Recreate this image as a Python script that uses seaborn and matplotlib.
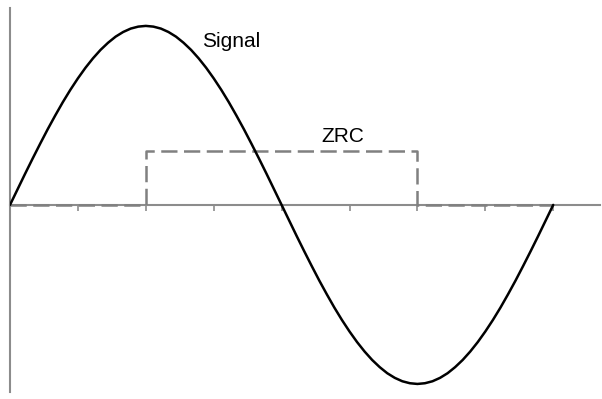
import matplotlib
matplotlib.use("Agg")
import matplotlib.pyplot as plt
import seaborn as sns
import pandas as pd

# phase in degrees
signal_x = list(range(0, 361, 5))
signal_y = [0.000, 0.087, 0.174, 0.259, 0.342, 0.423, 0.500, 0.574, 0.643,
            0.707, 0.766, 0.819, 0.866, 0.906, 0.940, 0.966, 0.985, 0.996,
            1.000, 0.996, 0.985, 0.966, 0.940, 0.906, 0.866, 0.819, 0.766,
            0.707, 0.643, 0.574, 0.500, 0.423, 0.342, 0.259, 0.174, 0.087,
            0.000, -0.087, -0.174, -0.259, -0.342, -0.423, -0.500, -0.574,
            -0.643, -0.707, -0.766, -0.819, -0.866, -0.906, -0.940, -0.966,
            -0.985, -0.996, -1.000, -0.996, -0.985, -0.966, -0.940, -0.906,
            -0.866, -0.819, -0.766, -0.707, -0.643, -0.574, -0.500, -0.423,
            -0.342, -0.259, -0.174, -0.087, 0.000]

zrc_x = [0, 90, 90, 270, 270, 360]
zrc_y = [0.0, 0.0, 0.30, 0.30, 0.0, 0.0]

tick_pos = [45, 90, 135, 180, 225, 270, 315, 360]

sig = pd.DataFrame({"x": signal_x, "y": signal_y})
zrc = pd.DataFrame({"x": zrc_x, "y": zrc_y})

sns.set_style("white")
plt.rcParams["font.family"] = ["Liberation Sans", "DejaVu Sans"]

fig = plt.figure(figsize=(6.02, 3.99), dpi=100)
ax = fig.add_axes([10 / 602, 7 / 399, 590 / 602, 384 / 399])

axis_col = "#8c8c8c"

sns.lineplot(data=zrc, x="x", y="y", ax=ax, color="#808080", lw=1.8,
             estimator=None, sort=False, zorder=3)
ax.lines[-1].set_dashes((6.5, 2.6))
sns.lineplot(data=sig, x="x", y="y", ax=ax, color="black", lw=1.8,
             estimator=None, sort=False, zorder=4)

ax.set_xlim(0, 391)
ax.set_ylim(-1.045, 1.10)

for s in ["top", "right"]:
    ax.spines[s].set_visible(False)
ax.spines["left"].set_color(axis_col)
ax.spines["left"].set_linewidth(1.5)
ax.spines["bottom"].set_position(("data", 0))
ax.spines["bottom"].set_color(axis_col)
ax.spines["bottom"].set_linewidth(1.5)

ax.set_xticks(tick_pos)
ax.set_xticklabels([])
ax.set_yticks([])
ax.tick_params(axis="x", direction="out", length=4, width=1.2,
               color=axis_col, bottom=True)
ax.set_xlabel("")
ax.set_ylabel("")

ax.text(146.5, 0.883, "Signal", fontsize=15, color="black",
        ha="center", va="baseline")
ax.text(220.8, 0.352, "ZRC", fontsize=15, color="black",
        ha="center", va="baseline")

fig.savefig("out.png", dpi=100, facecolor="white")
